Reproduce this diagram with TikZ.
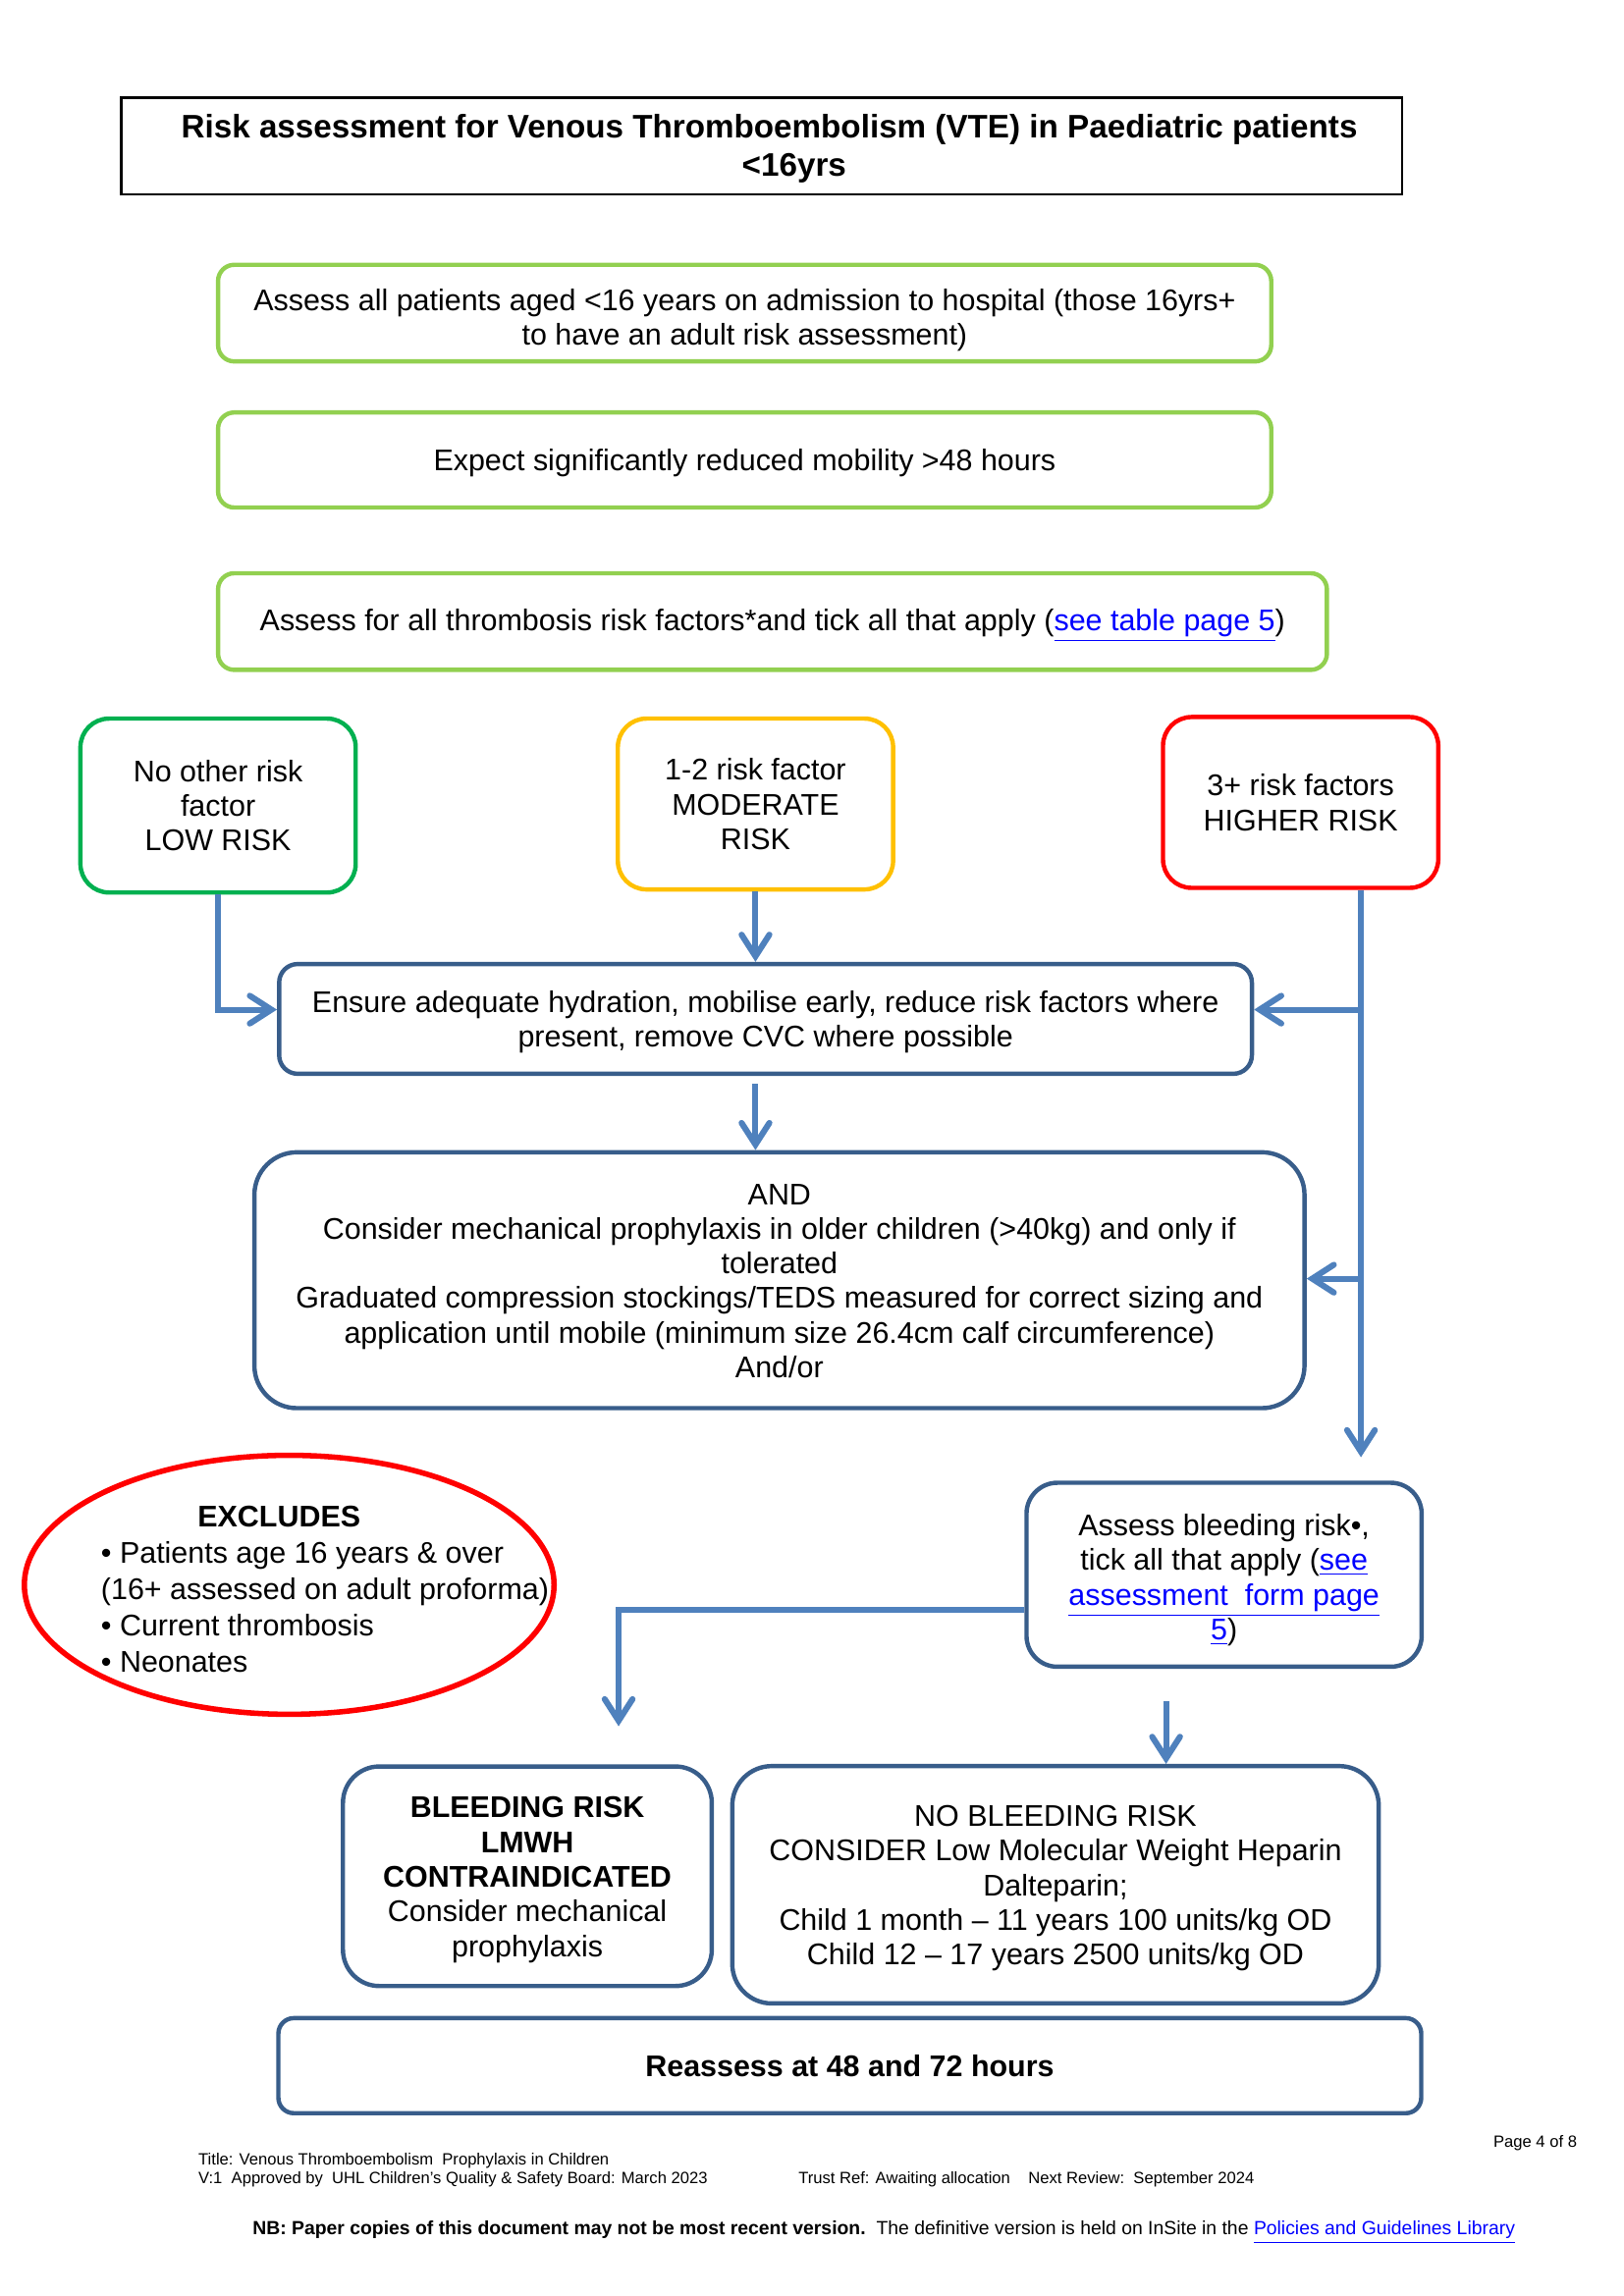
\documentclass[tikz,border=0pt]{standalone}
\usepackage{fontspec}
\setmainfont{Liberation Sans}
\usetikzlibrary{shapes.geometric,arrows.meta}
\definecolor{linkblue}{HTML}{0000FF}
\definecolor{lightgreen}{HTML}{92D050}
\definecolor{lowgreen}{HTML}{00B050}
\definecolor{modgold}{HTML}{FFC000}
\definecolor{highred}{HTML}{FF0000}
\definecolor{boxblue}{HTML}{385D8A}
\definecolor{arrowblue}{HTML}{4F81BD}
\newcommand{\weblink}[1]{\textcolor{linkblue}{\underline{#1}}}
\newcommand{\boxstrut}[1][11pt]{\rule{0pt}{#1}}

\begin{document}
\begin{tikzpicture}[font=\fontsize{11}{12.75}\selectfont,
        every node/.style={align=center,inner sep=0pt},
        boxtext/.style={execute at end node={\rule[-3pt]{0pt}{3pt}}},
        stepbox/.style={draw,line width=1.6pt,rounded corners=#1,boxtext},
        stepbox/.default=2.1mm,
        greenbox/.style={stepbox=#1,draw=lightgreen},
        greenbox/.default=2.1mm,
        bluebox/.style={stepbox=#1,draw=boxblue},
        bluebox/.default=2.1mm,
        footnote/.style={anchor=base west,font=\fontsize{6}{7}\selectfont},
        flow/.style={draw=arrowblue,line width=2.2pt,
            -{Straight Barb[length=2.8mm,width=3.6mm,line cap=round]}}]
        \useasboundingbox (0,0) rectangle (21,-29.7);

        \node[draw,line width=0.9pt,minimum width=16.56cm,minimum height=1.25cm,boxtext,
            font=\fontsize{12}{14}\selectfont\bfseries] (title) at (9.85,-1.89)
            {\boxstrut\hspace*{0.2cm}Risk assessment for Venous Thromboembolism (VTE) in Paediatric patients\\\hspace*{0.84cm}<16yrs};

        \node[greenbox,minimum width=13.62cm,minimum height=1.25cm] (admit) at (9.63,-4.05)
            {\boxstrut[14pt]Assess all patients aged <16 years on admission to hospital (those 16yrs+\\to have an adult risk assessment)};
        \node[greenbox,minimum width=13.62cm,minimum height=1.23cm] (mobility) at (9.63,-5.95)
            {\boxstrut Expect significantly reduced mobility >48 hours};
        \node[greenbox,minimum width=14.34cm,minimum height=1.25cm] (factors) at (9.99,-8.04)
            {\boxstrut Assess for all thrombosis risk factors*and tick all that apply (\weblink{see table page 5})};

        % risk levels
        \node[stepbox=3.7mm,draw=lowgreen,minimum width=3.56cm,minimum height=2.25cm] (low) at (2.82,-10.42)
            {\boxstrut No other risk\\factor\\LOW RISK};
        \node[stepbox=3.7mm,draw=modgold,minimum width=3.56cm,minimum height=2.21cm] (mod) at (9.77,-10.40)
            {\boxstrut 1-2 risk factor\\MODERATE\\RISK};
        \node[stepbox=3.7mm,draw=highred,minimum width=3.56cm,minimum height=2.21cm] (high) at (16.82,-10.38)
            {\boxstrut 3+ risk factors\\HIGHER RISK};

        \node[bluebox=2.4mm,minimum width=12.58cm,minimum height=1.42cm] (ensure) at (9.90,-13.18)
            {\boxstrut Ensure adequate hydration, mobilise early, reduce risk factors where\\present, remove CVC where possible};
        \node[bluebox=5.5mm,minimum width=13.58cm,minimum height=3.31cm] (mech) at (10.08,-16.56)
            {\boxstrut AND\\Consider mechanical prophylaxis in older children (>40kg) and only if\\tolerated\\Graduated compression stockings/TEDS measured for correct sizing and\\application until mobile (minimum size 26.4cm calf circumference)\\And/or};

        % exclusions
        \node[ellipse,draw=highred,line width=2pt,minimum width=6.85cm,minimum height=3.35cm] (excl) at (3.74,-20.50) {};
        \node[anchor=west,align=left,font=\fontsize{11}{13.4}\selectfont] (exclText) at (1.30,-20.56)
            {\hspace*{1.25cm}\textbf{EXCLUDES}\\
             •~Patients age 16 years \& over\\
             (16+ assessed on adult proforma)\\
             •~Current thrombosis\\
             •~Neonates};

        \node[bluebox=4mm,minimum width=5.11cm,minimum height=2.38cm] (bleed) at (15.83,-20.37)
            {\boxstrut[12.5pt]Assess bleeding risk•,\\tick all that apply (\weblink{see}\\\weblink{assessment\ \ form page}\\\weblink{5})};
        \node[bluebox=4.7mm,minimum width=4.77cm,minimum height=2.84cm] (lmwh) at (6.82,-24.27)
            {\boxstrut\textbf{BLEEDING RISK}\\\textbf{LMWH}\\\textbf{CONTRAINDICATED}\\Consider mechanical\\prophylaxis};
        \node[bluebox=5.1mm,minimum width=8.36cm,minimum height=3.07cm] (nobleed) at (13.65,-24.38)
            {\boxstrut NO BLEEDING RISK\\CONSIDER Low Molecular Weight Heparin\\Dalteparin;\\Child 1 month – 11 years 100 units/kg OD\\Child 12 – 17 years 2500 units/kg OD};
        \node[bluebox=2mm,minimum width=14.78cm,minimum height=1.23cm] (reassess) at (10.99,-26.72)
            {\boxstrut\textbf{Reassess at 48 and 72 hours}};

        \coordinate (forkA) at (17.60,-13.06);
        \coordinate (forkB) at (17.60,-16.54);
        \coordinate (highEnd) at (17.60,-18.85);
        \coordinate (lmwhIn) at (8.00,-22.33);
        \coordinate (nobleedIn) at (15.08,-22.00);

        \draw[flow] (low.south) |- (forkA -| ensure.west);
        \draw[flow] (mod.south) -- (mod.south |- ensure.north);
        \draw[flow,shorten <=1mm] (mod.south |- ensure.south) -- (mod.south |- mech.north);
        \draw[flow,-] (17.60,0 |- high.south) -- (forkA);
        \draw[flow] (forkA) -- (highEnd);
        \draw[flow] (forkA) -- (forkA -| ensure.east);
        \draw[flow] (forkB) -- (forkB -| mech.east);
        \draw[flow] ([yshift=-4.5mm]bleed.west) -| (lmwhIn);
        \draw[flow] (nobleedIn) -- (nobleedIn |- nobleed.north);

        % footer
        \node[footnote,anchor=base east] (pageNo) at (20.40,-27.78) {Page 4 of 8};
        \node[footnote] (docTitle) at (2.56,-28.01) {Title: Venous Thromboembolism\ \ Prophylaxis in Children};
        \node[footnote] (docVersion) at (2.56,-28.25) {V:1\ \ Approved by\ \ UHL Children’s Quality \& Safety Board: March 2023};
        \node[footnote] (docRef) at (10.32,-28.25) {Trust Ref: Awaiting allocation\ \ \ \ Next Review:\ \ September 2024};
        \node[footnote,font=\fontsize{7}{8}\selectfont] (docNote) at (3.26,-28.91)
            {\textbf{NB: Paper copies of this document may not be most recent version.}\ \ The definitive version is held on InSite in the \weblink{Policies and Guidelines Library}};
\end{tikzpicture}
\end{document}
